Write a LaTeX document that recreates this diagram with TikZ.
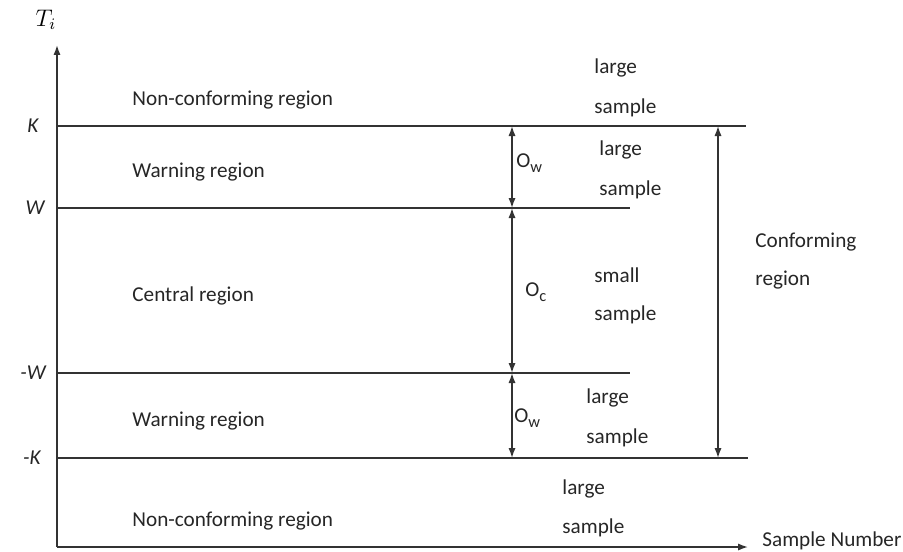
\documentclass[tikz,border=0pt]{standalone}
\usepackage{fontspec}
\setmainfont{Carlito}
\usetikzlibrary{arrows.meta}
\newcommand{\mysub}[1]{\raisebox{-2.2pt}{\fontsize{8.2}{8}\selectfont #1}}
\begin{document}
\begin{tikzpicture}[x=0.5pt,y=-0.5pt,
  ln/.style={line width=0.75pt,draw=black!80},
  dbl/.style={ln,{Latex[length=5pt,width=3.6pt]}-{Latex[length=5pt,width=3.6pt]}},
  axis/.style={ln,-{Latex[length=5pt,width=3.6pt]}},
  txt/.style={inner sep=0pt,text=black!85,font=\fontsize{10.6}{12}\selectfont},
  lt/.style={txt,anchor=west},
  ax/.style={txt,font=\fontsize{10.6}{12}\selectfont\itshape}]
\useasboundingbox (0,0) rectangle (903,551);
% coordinates
\coordinate (O) at (57,547);
\coordinate (yt) at (57,45);
\coordinate (xt) at (748,547);
\coordinate (K0) at (57,126);   \coordinate (K1) at (746,126);
\coordinate (W0) at (57,208);   \coordinate (W1) at (630,208);
\coordinate (mW0) at (57,373);  \coordinate (mW1) at (630,373);
\coordinate (mK0) at (57,458);  \coordinate (mK1) at (748,458);
\coordinate (aK) at (512,126);  \coordinate (aW) at (512,208);
\coordinate (amW) at (512,373); \coordinate (amK) at (512,458);
\coordinate (cK) at (718,126);  \coordinate (cmK) at (718,458);
% axes
\draw[axis] (O) -- (yt);
\draw[axis] (O) -- (xt);
% horizontal lines
\draw[ln] (K0) -- (K1);
\draw[ln] (W0) -- (W1);
\draw[ln] (mW0) -- (mW1);
\draw[ln] (mK0) -- (mK1);
% double arrows
\draw[dbl] (aK) -- (aW);
\draw[dbl] (aW) -- (amW);
\draw[dbl] (amW) -- (amK);
\draw[dbl] (cK) -- (cmK);
% axis labels
\node[txt,text=black] (Ti) at (46,20) {\fontsize{12}{12}\selectfont$T_i$};
\node[txt,anchor=west] (sn) at (762,541) {Sample Number};
\node[ax] (lK) at (33,126) {K};
\node[ax] (lW) at (35,208) {W};
\node[ax] (lmW) at (33,373) {-W};
\node[ax] (lmK) at (32,458) {-K};
% region labels
\node[lt] (r1) at (132,100) {Non-conforming region};
\node[lt] (r2) at (132,172) {Warning region};
\node[lt] (r3) at (132,296) {Central region};
\node[lt] (r4) at (132,421) {Warning region};
\node[lt] (r5) at (132,521) {Non-conforming region};
% O labels
\node[lt] (o1) at (516,163) {O\mysub{w}};
\node[lt] (o2) at (525,292) {O\mysub{c}};
\node[lt] (o3) at (514,418) {O\mysub{w}};
% sample labels
\node[lt] (s1a) at (594,68) {large};
\node[lt] (s1b) at (594,108) {sample};
\node[lt] (s2a) at (599,150) {large};
\node[lt] (s2b) at (599,190) {sample};
\node[lt] (s3a) at (594,275) {small};
\node[lt] (s3b) at (594,315) {sample};
\node[lt] (s4a) at (586,398) {large};
\node[lt] (s4b) at (586,438) {sample};
\node[lt] (s5a) at (562,489) {large};
\node[lt] (s5b) at (562,528) {sample};
% conforming
\node[lt] (c1) at (755,242) {Conforming};
\node[lt] (c2) at (755,280) {region};
\end{tikzpicture}
\end{document}
